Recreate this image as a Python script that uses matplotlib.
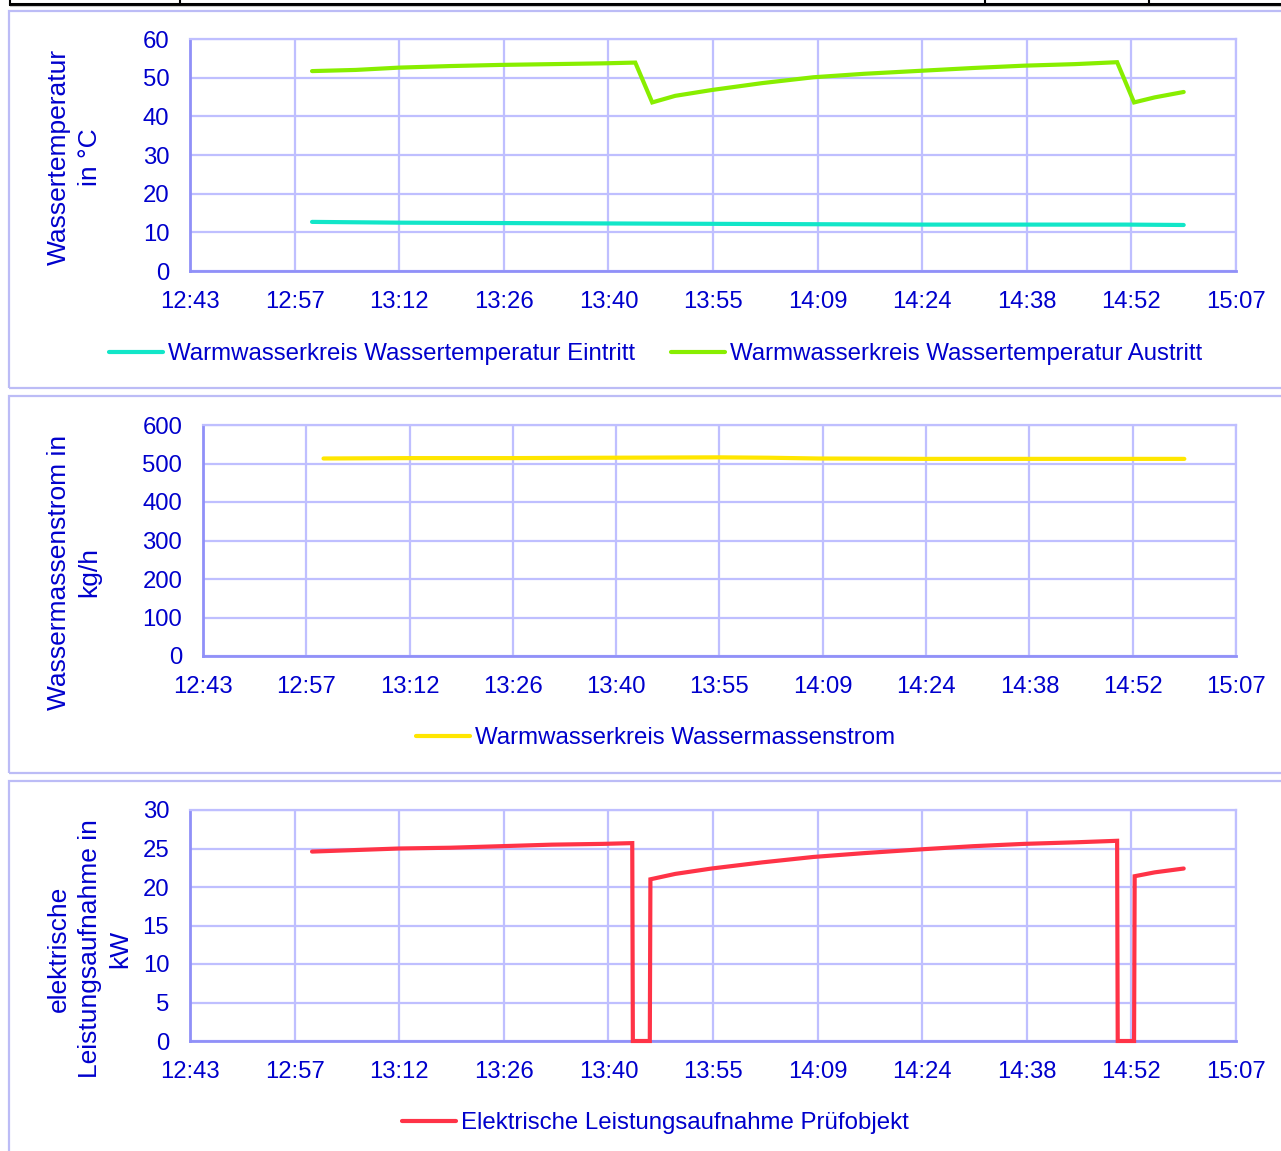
import matplotlib
matplotlib.use("Agg")
import matplotlib.pyplot as plt
from matplotlib.lines import Line2D
from matplotlib.patches import Rectangle

W, H = 1281, 1151
plt.rcParams['font.family'] = ['Liberation Sans', 'DejaVu Sans']

# ---------------- data ----------------
x_ticks = [0.53, 0.54, 0.55, 0.56, 0.57, 0.58, 0.59, 0.60, 0.61, 0.62, 0.63]
x_tick_labels = ["12:43", "12:57", "13:12", "13:26", "13:40", "13:55",
                 "14:09", "14:24", "14:38", "14:52", "15:07"]

t_eintritt = ["13:00:00", "13:12:00", "13:26:00", "13:40:00", "13:55:00",
              "14:09:00", "14:24:00", "14:38:00", "14:52:00", "15:00:00"]
temp_eintritt = [12.7, 12.5, 12.4, 12.3, 12.2, 12.1, 12.0, 12.0, 12.0, 11.9]

t_austritt = ["13:00:00", "13:06:00", "13:12:00", "13:19:00", "13:26:00", "13:33:00",
              "13:40:00", "13:44:30", "13:46:50", "13:50:00", "13:55:00", "14:02:00",
              "14:09:00", "14:16:00", "14:24:00", "14:31:00", "14:38:00", "14:45:00",
              "14:50:50", "14:53:10", "14:56:00", "15:00:00"]
temp_austritt = [51.7, 52.0, 52.6, 53.0, 53.3, 53.5,
                 53.7, 53.9, 43.6, 45.3, 46.8, 48.6,
                 50.1, 51.0, 51.8, 52.5, 53.1, 53.5,
                 54.0, 43.6, 44.9, 46.3]

t_massenstrom = ["13:00:00", "13:12:00", "13:26:00", "13:40:00", "13:55:00", "14:02:00",
                 "14:09:00", "14:24:00", "14:38:00", "14:52:00", "15:00:00"]
massenstrom = [513, 514, 514, 515, 516, 515, 513, 512, 512, 512, 512]

t_leistung = ["13:00:00", "13:06:00", "13:12:00", "13:19:00", "13:26:00", "13:33:00",
              "13:40:00", "13:44:05", "13:44:10", "13:46:30", "13:46:35", "13:50:00",
              "13:55:00", "14:02:00", "14:09:00", "14:16:00", "14:24:00", "14:31:00",
              "14:38:00", "14:45:00", "14:50:50", "14:50:55", "14:53:10", "14:53:15",
              "14:56:00", "15:00:00"]
leistung = [24.6, 24.8, 25.0, 25.1, 25.3, 25.5,
            25.6, 25.7, 0.0, 0.0, 21.0, 21.7,
            22.4, 23.2, 23.9, 24.4, 24.9, 25.3,
            25.6, 25.8, 26.0, 0.0, 0.0, 21.4,
            21.9, 22.4]


def to_day(ts):
    out = []
    for s in ts:
        h, m, sec = (int(v) for v in s.split(":"))
        out.append((h * 3600 + m * 60 + sec) / 86400.0)
    return out


# ---------------- styling ----------------
TXT = '#0000CC'
GRID = '#BFBFFF'
AXC = '#9090F8'
PANEL = '#BCBCF6'
TICK_FS = 17.2
LEG_FS = 17.3
LAB_FS = 19
LW = 3.0

fig = plt.figure(figsize=(W / 100, H / 100), dpi=100)


def fx(px):
    return px / W


def fy(py):
    return 1 - py / H


def make_ax(l, r, t, b, yticks):
    ax = fig.add_axes([fx(l), fy(b), fx(r - l), (b - t) / H])
    ax.set_xlim(x_ticks[0], x_ticks[-1])
    ax.set_ylim(yticks[0], yticks[-1])
    ax.set_xticks(x_ticks)
    ax.set_xticklabels(x_tick_labels)
    ax.set_yticks(yticks)
    ax.grid(True, color=GRID, lw=1.6)
    ax.set_axisbelow(True)
    for side in ['top', 'right']:
        ax.spines[side].set_color(GRID)
        ax.spines[side].set_linewidth(1.6)
    for side in ['left', 'bottom']:
        ax.spines[side].set_color(AXC)
        ax.spines[side].set_linewidth(2)
    ax.tick_params(axis='both', length=0, labelsize=TICK_FS, labelcolor=TXT)
    ax.tick_params(axis='y', pad=15)
    ax.tick_params(axis='x', pad=14.5)
    return ax


# panel frames
for (top, bot) in [(11, 388), (396, 773), (781, 1170)]:
    fig.patches.append(Rectangle((fx(9), fy(bot)), fx(1300 - 9), (bot - top) / H,
                                 transform=fig.transFigure, fill=False,
                                 edgecolor=PANEL, lw=1.6))

# top table remnant
fig.add_artist(Line2D([fx(10), 1], [fy(4), fy(4)], color='black', lw=2.2,
                      transform=fig.transFigure))
fig.add_artist(Line2D([fx(10), 1], [fy(6), fy(6)], color='#C8C8C8', lw=0.8,
                      transform=fig.transFigure))
for xv in [10, 180, 985, 1149]:
    fig.add_artist(Line2D([fx(xv), fx(xv)], [fy(0), fy(4)], color='black', lw=1.5,
                          transform=fig.transFigure))

line_kw = dict(lw=LW, solid_capstyle='round', solid_joinstyle='miter',
               clip_on=False, zorder=3)

# ---------- panel 1 ----------
ax1 = make_ax(190, 1236, 39, 271, [0, 10, 20, 30, 40, 50, 60])
l1, = ax1.plot(to_day(t_eintritt), temp_eintritt, color='#12E6C8', **line_kw)
l2, = ax1.plot(to_day(t_austritt), temp_austritt, color='#88EE00', **line_kw)
fig.legend([l1, l2], ["Warmwasserkreis Wassertemperatur Eintritt",
                      "Warmwasserkreis Wassertemperatur Austritt"],
           loc='center', bbox_to_anchor=(fx(655.5), fy(354)), ncol=2, frameon=False,
           fontsize=LEG_FS, labelcolor=TXT, handlelength=2.25, handletextpad=0.2,
           columnspacing=1.5, borderpad=0)
for text, xc in [("Wassertemperatur", 59), ("in °C", 90)]:
    fig.text(fx(xc), fy(157), text, rotation=90, ha='center', va='center',
             fontsize=LAB_FS, color=TXT)

# ---------- panel 2 ----------
ax2 = make_ax(203, 1236, 425, 656, [0, 100, 200, 300, 400, 500, 600])
l3, = ax2.plot(to_day(t_massenstrom), massenstrom, color='#FFE600', **line_kw)
fig.legend([l3], ["Warmwasserkreis Wassermassenstrom"],
           loc='center', bbox_to_anchor=(fx(655.5), fy(738)), frameon=False,
           fontsize=LEG_FS, labelcolor=TXT, handlelength=2.25, handletextpad=0.2,
           borderpad=0)
for text, xc in [("Wassermassenstrom in", 59), ("kg/h", 89)]:
    fig.text(fx(xc), fy(572), text, rotation=90, ha='center', va='center',
             fontsize=LAB_FS, color=TXT)

# ---------- panel 3 ----------
ax3 = make_ax(190, 1236, 810, 1041, [0, 5, 10, 15, 20, 25, 30])
l4, = ax3.plot(to_day(t_leistung), leistung, color='#FF3347', **line_kw)
fig.legend([l4], ["Elektrische Leistungsaufnahme Prüfobjekt"],
           loc='center', bbox_to_anchor=(fx(655.5), fy(1123)), frameon=False,
           fontsize=LEG_FS, labelcolor=TXT, handlelength=2.25, handletextpad=0.2,
           borderpad=0)
for text, xc in [("elektrische", 59), ("Leistungsaufnahme in", 90), ("kW", 120)]:
    fig.text(fx(xc), fy(949), text, rotation=90, ha='center', va='center',
             fontsize=LAB_FS, color=TXT)

fig.savefig("out.png", dpi=100)
